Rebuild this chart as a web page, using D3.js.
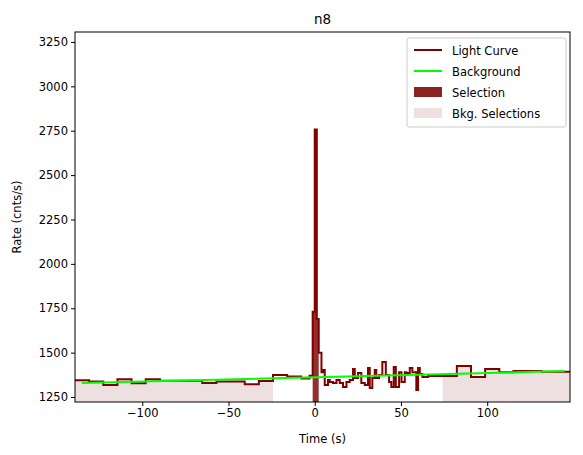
<!DOCTYPE html>
<html><head><meta charset="utf-8">
<script src="https://cdn.jsdelivr.net/npm/d3@7"></script>
<style>body{margin:0;background:#fff}text{font-family:"DejaVu Sans",sans-serif}</style>
</head><body><div id="chart"></div>
<script>
// light curve bin edges (s) and rates (cnts/s)
var lcEdges = [-139,-130.8,-122.6,-114.4,-106.2,-98,-89.8,-81.6,-73.4,-65.2,-57,-48.8,-40.6,-32.4,-24.2,-16,-7.8,-3,-1.2,0,1.2,2.3,
  3.9,4.8,5.8,7.7,8.7,10.6,12.6,14.5,16.4,18.4,20.3,22.2,23.2,25.1,27.0,29.0,30.9,31.9,33.4,34.8,35.7,37.3,39.2,41.2,43.1,44.4,45.8,47.0,48.9,50.3,52.2,53.1,55.1,56.6,58.9,59.9,60.9,62.4,65.7,
  74.2,82.4,90.6,98.8,107,115.2,123.4,131.6,139.8,148]
var lcRates = [1345,1338,1318,1350,1328,1350,1342,1342,1342,1329,1338,1338,1322,1340,1374,1365,1355,1370,1730,2757,1690,1500,
  1390,1402,1318,1346,1335,1329,1346,1329,1306,1335,1346,1408,1357,1385,1329,1318,1413,1301,1357,1402,1357,1374,1447,1374,1335,1306,1419,1306,1390,1335,1390,1385,1413,1390,1290,1413,1380,1363,
  1368,1368,1425,1363,1408,1390,1396,1396,1392,1392]
var selection = [-1.2, 2.3]
var bkgSelections = [[-139, -24.2], [74.2, 148]]
var bkgLine = [[-135, 1329], [145, 1396]]
var xTicks = [-100, -50, 0, 50, 100]
var yTicks = [1250, 1500, 1750, 2000, 2250, 2500, 2750, 3000, 3250]

var margin = {top: 32, right: 13, bottom: 53, left: 75},
  width = 583 - margin.left - margin.right,
  height = 455 - margin.top - margin.bottom

var svg = d3.select("#chart").append("svg").attr("width", 583).attr("height", 455)
var g = svg.append("g").attr("transform", "translate(" + margin.left + "," + margin.top + ")")

var x = d3.scaleLinear().domain([-139, 148]).range([0, width])
var y = d3.scaleLinear().domain([1222, 3306]).range([height, 0])

g.append("defs").append("clipPath").attr("id", "clip").append("rect").attr("width", width).attr("height", height)
var plot = g.append("g").attr("clip-path", "url(#clip)")

var pts = []
lcRates.forEach(function(r, i){ pts.push([lcEdges[i], r]); pts.push([lcEdges[i+1], r]) })

// step points restricted to a time range
function stepIn(a, b){
  var out = []
  lcRates.forEach(function(r, i){
    var s = Math.max(lcEdges[i], a), e = Math.min(lcEdges[i+1], b)
    if (e > s) { out.push([s, r]); out.push([e, r]) }
  })
  return out
}
var area = d3.area().x(function(d){ return x(d[0]) }).y0(height + 5).y1(function(d){ return y(d[1]) })

plot.selectAll(".bkg").data(bkgSelections).enter().append("path")
  .attr("d", function(d){ return area(stepIn(d[0], d[1])) })
  .attr("fill", "#eee0e0")

plot.append("path").attr("d", area(stepIn(selection[0], selection[1])))
  .attr("fill", "#8b2323").attr("opacity", 0.95)

plot.append("path").attr("d", d3.line().x(function(d){ return x(d[0]) }).y(function(d){ return y(d[1]) })(pts))
  .attr("fill", "none").attr("stroke", "#800000").attr("stroke-width", 2)

plot.append("path").attr("d", d3.line().x(function(d){ return x(d[0]) }).y(function(d){ return y(d[1]) })(bkgLine))
  .attr("fill", "none").attr("stroke", "#00ff00").attr("stroke-width", 2)

g.append("rect").attr("width", width).attr("height", height).attr("fill", "none").attr("stroke", "#000").attr("stroke-width", 1)

var xa = g.append("g").attr("transform", "translate(0," + height + ")")
  .call(d3.axisBottom(x).tickValues(xTicks).tickSize(4).tickPadding(3).tickFormat(function(d){ return d < 0 ? "\u2212" + (-d) : d }))
var ya = g.append("g").call(d3.axisLeft(y).tickValues(yTicks).tickSize(4).tickPadding(3).tickFormat(d3.format("d")))
;[xa, ya].forEach(function(a){ a.select(".domain").remove(); a.selectAll("text").attr("font-size", 11.5).attr("font-family", "DejaVu Sans").attr("fill", "#000") })

svg.append("text").attr("x", margin.left + width / 2).attr("y", 24).attr("text-anchor", "middle").attr("font-size", 13.5).text("n8")
svg.append("text").attr("x", margin.left + width / 2).attr("y", 443).attr("text-anchor", "middle").attr("font-size", 11.5).text("Time (s)")
svg.append("text").attr("transform", "translate(21," + (margin.top + height / 2) + ") rotate(-90)").attr("text-anchor", "middle").attr("font-size", 11.5).text("Rate (cnts/s)")

var items = [["Light Curve", "line", "#800000"], ["Background", "line", "#00ff00"], ["Selection", "patch", "#8b2323"], ["Bkg. Selections", "patch", "#eee0e0"]]
var lg = svg.append("g").attr("transform", "translate(407,38)")
lg.append("rect").attr("width", 159).attr("height", 89).attr("rx", 2).attr("fill", "#fff").attr("fill-opacity", 0.8).attr("stroke", "#ccc")
var li = lg.selectAll(".li").data(items).enter().append("g").attr("transform", function(d, i){ return "translate(5," + (12 + i * 21) + ")" })
li.each(function(d){
  var s = d3.select(this)
  if (d[1] == "line") s.append("line").attr("x1", 2).attr("x2", 30).attr("stroke", d[2]).attr("stroke-width", 2)
  else s.append("rect").attr("x", 2).attr("y", -5).attr("width", 28).attr("height", 10).attr("fill", d[2])
})
li.append("text").attr("x", 40).attr("y", 4.5).attr("font-size", 11.5).text(function(d){ return d[0] })
</script></body></html>
